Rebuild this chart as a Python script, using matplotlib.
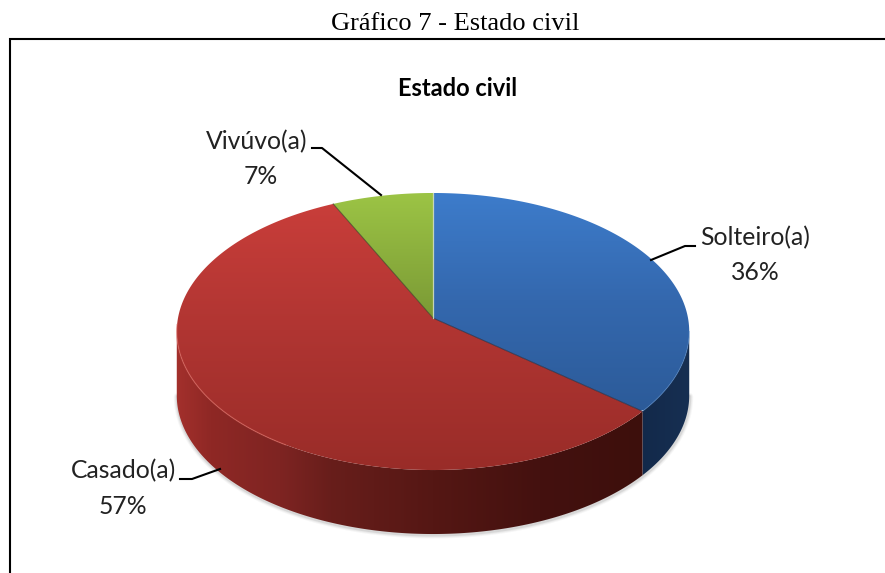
import numpy as np
import matplotlib
matplotlib.use("Agg")
import matplotlib.pyplot as plt
from matplotlib.colors import LinearSegmentedColormap
from matplotlib.patches import Polygon

# Data
categories = ["Solteiro(a)", "Casado(a)", "Vivúvo(a)"]
percentages = [36, 57, 7]
chart_title = "Estado civil"
caption = "Gráfico 7 - Estado civil"

# Geometry of the projected disc (pixels)
CX, APEX_Y, SX, SY, K, DEPTH = 433, 318, 255, 106.2, -0.0975, 64


def project(theta):
    u, v = np.sin(theta), -np.cos(theta)
    w = 1 + K * v
    return CX + SX * u / w, (APEX_Y + SY * v) / w


fig = plt.figure(figsize=(8.85, 5.73), dpi=100)
ax = fig.add_axes([0, 0, 1, 1])
ax.set_xlim(0, 885)
ax.set_ylim(573, 0)
ax.axis("off")


def gradient(patch_pts, stops, vertical=True, zorder=2):
    lo, hi = stops[0][0], stops[-1][0]
    cmap = LinearSegmentedColormap.from_list(
        "g", [((p - lo) / (hi - lo), c) for p, c in stops])
    t = np.linspace(0, 1, 256)
    arr = t[:, None] if vertical else t[None, :]
    extent = (0, 885, hi, lo) if vertical else (lo, hi, 573, 0)
    im = ax.imshow(arr, cmap=cmap, extent=extent, aspect="auto",
                   interpolation="bilinear", zorder=zorder, vmin=0, vmax=1)
    poly = Polygon(patch_pts, closed=True, transform=ax.transData,
                   facecolor="none", edgecolor="none")
    ax.add_patch(poly)
    im.set_clip_path(poly)
    ax.set_xlim(0, 885)
    ax.set_ylim(573, 0)


fractions = np.array(percentages) / sum(percentages)
edges = np.concatenate([[0], np.cumsum(fractions)]) * 2 * np.pi
th_right = np.arccos(K)
th_left = 2 * np.pi - th_right

# soft shadow around the wall
ts = np.linspace(th_right, th_left, 200)
xs, ys = project(ts)
for lw, a in [(7, 0.05), (5, 0.07), (3, 0.12)]:
    ax.plot(xs + 0.5, ys + DEPTH + 1, color="#555555", lw=lw * 0.72, alpha=a,
            zorder=1, solid_capstyle="round")

top_stops = {
    "Solteiro(a)": [(193, "#3d7ccb"), (300, "#3468ae"), (410, "#2c5b99")],
    "Casado(a)": [(200, "#c93e3a"), (330, "#b03532"), (472, "#992c28")],
    "Vivúvo(a)": [(193, "#9cc445"), (320, "#7a9935")],
}
side_stops = {
    "Solteiro(a)": [(640, "#12294a"), (690, "#172f52")],
    "Casado(a)": [(176, "#a3302c"), (210, "#8f2825"), (280, "#7e2422"),
                  (330, "#681e1b"), (433, "#551714"), (540, "#44110f"),
                  (645, "#3d0f0c")],
}

# side walls
for name, a, b in zip(categories, edges[:-1], edges[1:]):
    a2, b2 = max(a, th_right), min(b, th_left)
    if b2 <= a2:
        continue
    t = np.linspace(a2, b2, 200)
    x, y = project(t)
    pts = np.r_[np.c_[x, y], np.c_[x[::-1], y[::-1] + DEPTH]]
    gradient(pts, side_stops[name], vertical=False, zorder=2)

# top faces
for name, a, b in zip(categories, edges[:-1], edges[1:]):
    t = np.linspace(a, b, 200)
    x, y = project(t)
    pts = np.r_[[[CX, APEX_Y]], np.c_[x, y]]
    gradient(pts, top_stops[name], vertical=True, zorder=3)

# rim highlight on the front edge
t = np.linspace(np.radians(212), th_left + 0.05, 80)
x, y = project(t)
ax.plot(x, y, color="#d9645c", lw=0.9, alpha=0.6, zorder=4)
t = np.linspace(th_right, edges[1], 40)
x, y = project(t)
ax.plot(x, y, color="#4f86c8", lw=0.8, alpha=0.5, zorder=4)

# slice borders
bx, by = project(edges[1])
ax.plot([CX, bx], [APEX_Y, by], color="#1f2c46", lw=0.7, alpha=0.8, zorder=5)
gx, gy = project(edges[2])
ax.plot([CX, gx], [APEX_Y, gy], color="#3b3a1e", lw=0.7, alpha=0.75, zorder=5)
wx, wy = project(0.0)
ax.plot([CX, wx], [APEX_Y, wy], color="#dfe8b8", lw=0.9, alpha=0.85, zorder=5)

# Outer frame
ax.plot([9.5, 9.5, 885], [573, 39, 39], color="black", lw=1.5, zorder=6,
        solid_joinstyle="miter")

# Leaders
leaders = {
    "Solteiro(a)": ([651, 685, 695], [260, 246, 246]),
    "Casado(a)": ([220, 192, 180], [469, 479, 479]),
    "Vivúvo(a)": ([381, 322, 312], [195, 148, 148]),
}
for name in categories:
    lx, ly = leaders[name]
    ax.plot(lx, ly, color="black", lw=1.5, zorder=6)

# Labels
FONT = "Lato"
label_pos = {
    "Solteiro(a)": ((755, 238), (755, 273)),
    "Casado(a)": ((123, 471), (123, 506)),
    "Vivúvo(a)": ((257, 142), (261, 177)),
}
for name, pct in zip(categories, percentages):
    p1, p2 = label_pos[name]
    ax.text(*p1, name, ha="center", va="center", family=FONT, fontsize=17.8,
            color="#222222", zorder=7)
    ax.text(*p2, f"{pct}%", ha="center", va="center", family=FONT, fontsize=17.8,
            color="#222222", zorder=7)

ax.text(458, 88, chart_title, ha="center", va="center", family=FONT,
        fontsize=17, fontweight="bold", color="black", zorder=7)
ax.text(455, 30, caption, ha="center", va="baseline", family="Liberation Serif",
        fontsize=19, color="black", zorder=7)

fig.savefig("out.png", dpi=100)
